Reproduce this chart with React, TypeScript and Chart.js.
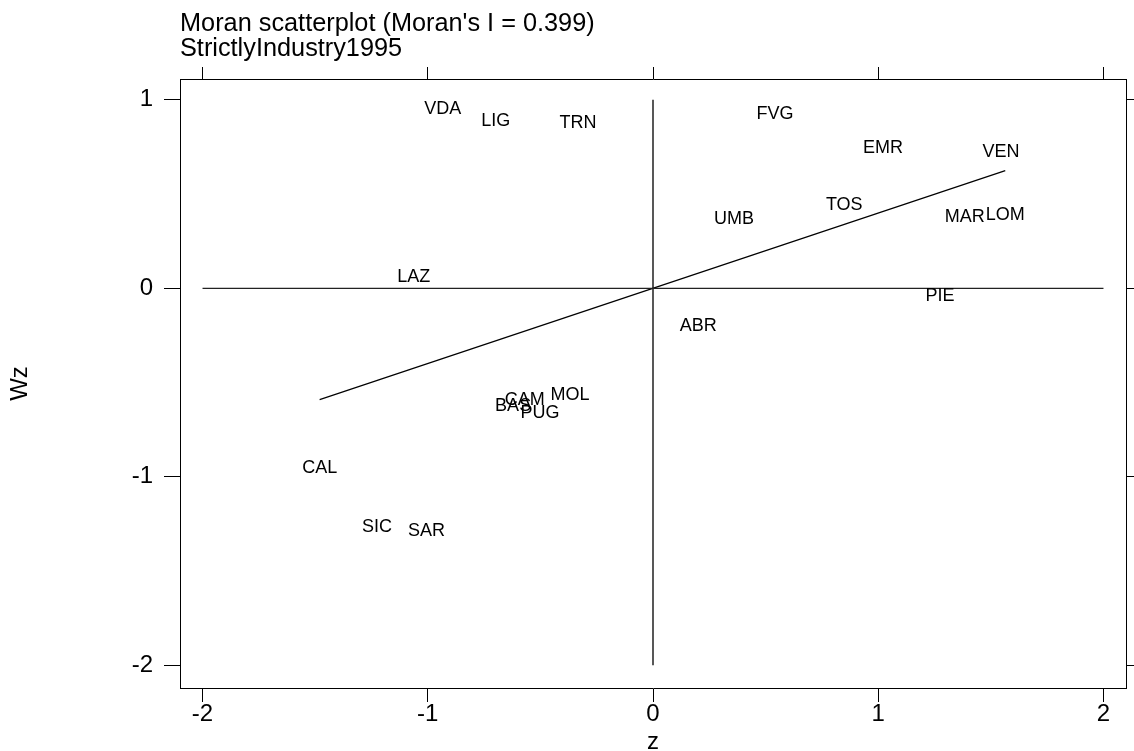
import React, { useEffect, useRef } from 'react';
import { Chart, registerables } from 'chart.js';

Chart.register(...registerables);

const FONT = '"Liberation Sans", Arial, Helvetica, sans-serif';

const regions = ['VDA', 'LIG', 'TRN', 'FVG', 'EMR', 'VEN', 'TOS', 'UMB', 'MAR', 'LOM', 'PIE', 'ABR', 'LAZ', 'CAM', 'BAS', 'PUG', 'MOL', 'CAL', 'SIC', 'SAR'];
const zValues = [-0.933, -0.698, -0.333, 0.542, 1.021, 1.545, 0.849, 0.36, 1.384, 1.564, 1.274, 0.201, -1.062, -0.569, -0.621, -0.502, -0.369, -1.48, -1.225, -1.006];
const wzValues = [0.951, 0.887, 0.876, 0.924, 0.742, 0.724, 0.439, 0.365, 0.379, 0.388, -0.042, -0.198, 0.058, -0.595, -0.625, -0.66, -0.565, -0.954, -1.268, -1.289];

const moranI = 0.399;
const variableName = 'StrictlyIndustry1995';
const titleLines = [`Moran scatterplot (Moran's I = ${moranI})`, variableName];

const xTicks = [-2, -1, 0, 1, 2];
const yTicks = [-2, -1, 0, 1];
const refLineZ = [-2, 2];
const refLineWz = [-2, 1];
const xLimits = [-2.1, 2.1];
const yLimits = [-2.12, 1.11];

const labelPlugin = {
  id: 'regionLabels',
  afterDatasetsDraw(chart: any) {
    const meta = chart.getDatasetMeta(0);
    const ctx = chart.ctx;
    ctx.save();
    ctx.font = `18px ${FONT}`;
    ctx.fillStyle = '#000';
    ctx.textAlign = 'center';
    ctx.textBaseline = 'middle';
    meta.data.forEach((el: any, i: number) => {
      ctx.fillText(regions[i], el.x, el.y);
    });
    ctx.restore();
  },
};

const titlePlugin = {
  id: 'twoLineTitle',
  afterDraw(chart: any) {
    const ctx = chart.ctx;
    const left = chart.chartArea.left;
    ctx.save();
    ctx.font = `25.3px ${FONT}`;
    ctx.fillStyle = '#000';
    ctx.textAlign = 'left';
    ctx.textBaseline = 'alphabetic';
    ctx.fillText(titleLines[0], left, 30.5);
    ctx.fillText(titleLines[1], left, 56);
    ctx.restore();
  },
};

export default function App() {
  const canvasRef = useRef<HTMLCanvasElement | null>(null);

  useEffect(() => {
    if (!canvasRef.current) return;
    const zMin = Math.min(...zValues);
    const zMax = Math.max(...zValues);
    const gridBase = { drawOnChartArea: false, drawTicks: true, color: '#000', tickColor: '#000', lineWidth: 1 };
    const border = { display: true, color: '#000', width: 1 };
    const chart = new Chart(canvasRef.current, {
      type: 'scatter',
      data: {
        datasets: [
          {
            label: 'regions',
            data: zValues.map((z, i) => ({ x: z, y: wzValues[i] })),
            pointRadius: 0,
            pointHoverRadius: 0,
            showLine: false,
          },
          {
            label: 'hline',
            data: refLineZ.map((z) => ({ x: z, y: 0 })),
            showLine: true,
            borderColor: '#222',
            borderWidth: 1.2,
            pointRadius: 0,
          },
          {
            label: 'vline',
            data: refLineWz.map((w) => ({ x: 0, y: w })),
            showLine: true,
            borderColor: '#111',
            borderWidth: 1.4,
            pointRadius: 0,
          },
          {
            label: 'fit',
            data: [zMin, zMax].map((z) => ({ x: z, y: moranI * z })),
            showLine: true,
            borderColor: '#000',
            borderWidth: 1.2,
            pointRadius: 0,
          },
        ],
      },
      options: {
        animation: false,
        responsive: true,
        maintainAspectRatio: false,
        layout: { padding: 0 },
        plugins: { legend: { display: false }, tooltip: { enabled: false }, title: { display: false } },
        events: [],
        scales: {
          x: {
            type: 'linear',
            position: 'bottom',
            min: xLimits[0],
            max: xLimits[1],
            afterBuildTicks: (s: any) => { s.ticks = xTicks.map((v) => ({ value: v })); },
            afterFit: (s: any) => { s.height = 63; },
            grid: { ...gridBase, tickLength: 14 },
            border,
            ticks: { font: { size: 24, family: FONT, lineHeight: 1 }, color: '#000', padding: 0, maxRotation: 0, autoSkip: false, callback: (v: any) => String(v) },
            title: { display: true, text: 'z', color: '#000', font: { size: 24, family: FONT, lineHeight: 1 }, padding: { top: 0, bottom: -3.2 } },
          },
          x2: {
            type: 'linear',
            position: 'top',
            min: xLimits[0],
            max: xLimits[1],
            afterBuildTicks: (s: any) => { s.ticks = xTicks.map((v) => ({ value: v })); },
            afterFit: (s: any) => { s.height = 79; },
            grid: { ...gridBase, tickLength: 12 },
            border,
            ticks: { display: false },
          },
          y: {
            type: 'linear',
            position: 'left',
            min: yLimits[0],
            max: yLimits[1],
            afterBuildTicks: (s: any) => { s.ticks = yTicks.map((v) => ({ value: v })); },
            afterFit: (s: any) => { s.width = 180; },
            grid: { ...gridBase, tickLength: 16 },
            border,
            ticks: { font: { size: 24, family: FONT, lineHeight: 1 }, color: '#000', padding: 11, autoSkip: false, callback: (v: any) => String(v) },
            title: { display: true, text: 'Wz', color: '#000', font: { size: 24, family: FONT, lineHeight: 1 }, padding: { top: 8.5, bottom: 0 } },
          },
          y2: {
            type: 'linear',
            position: 'right',
            min: yLimits[0],
            max: yLimits[1],
            afterBuildTicks: (s: any) => { s.ticks = yTicks.map((v) => ({ value: v })); },
            afterFit: (s: any) => { s.width = 8; },
            grid: { ...gridBase, tickLength: 8 },
            border,
            ticks: { display: false },
          },
        },
      } as any,
      plugins: [labelPlugin, titlePlugin],
    });
    return () => chart.destroy();
  }, []);

  return (
    <div style={{ position: 'fixed', left: 0, top: 0, width: 1134, height: 751, background: '#fff' }}>
      <canvas ref={canvasRef} />
    </div>
  );
}
